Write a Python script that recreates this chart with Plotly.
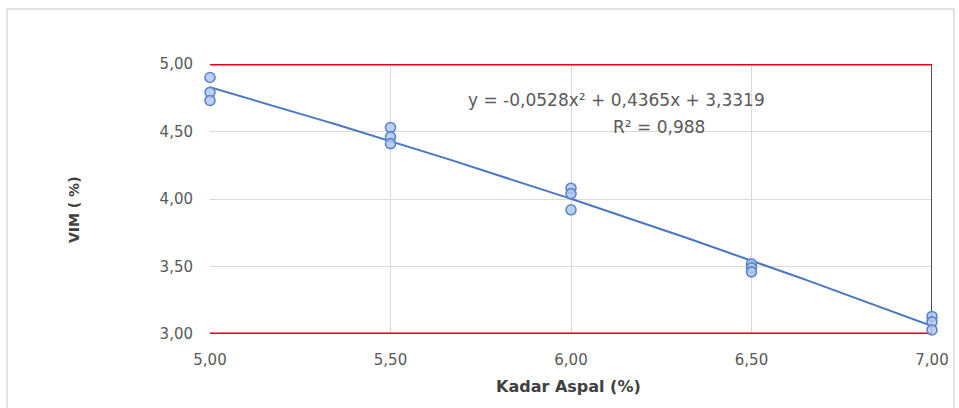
import numpy as np
import plotly.graph_objects as go

# Asphalt content (%) and measured VIM (%) for each specimen
kadar_aspal = [5.00, 5.00, 5.00, 5.50, 5.50, 5.50, 6.00, 6.00, 6.00,
               6.50, 6.50, 6.50, 7.00, 7.00, 7.00]
vim = [4.90, 4.79, 4.73, 4.53, 4.46, 4.41, 4.08, 4.04, 3.92,
       3.52, 3.49, 3.46, 3.13, 3.09, 3.03]

# Specification limits for VIM
batas_atas = 5.00
batas_bawah = 3.00
x_range = [5.00, 7.00]

x_ticks = [5.00, 5.50, 6.00, 6.50, 7.00]
y_ticks = [3.00, 3.50, 4.00, 4.50, 5.00]

persamaan = "y = -0,0528x² + 0,4365x + 3,3319"
r_kuadrat = "R² = 0,988"

FONT = "DejaVu Sans, Verdana, sans-serif"

# Polynomial (order 2) trendline through the measurements
coef = np.polyfit(kadar_aspal, vim, 2)
xt = np.linspace(x_range[0], x_range[1], 100)
yt = np.polyval(coef, xt)

fig = go.Figure()

# boundary at the upper asphalt content
fig.add_trace(go.Scatter(x=[x_range[1], x_range[1]], y=[batas_bawah, batas_atas], mode="lines",
                         line=dict(color="#404040", width=1.8), hoverinfo="skip", cliponaxis=False))
# spec limit lines
fig.add_trace(go.Scatter(x=x_range, y=[batas_atas, batas_atas], mode="lines",
                         line=dict(color="#e0001b", width=3), hoverinfo="skip", cliponaxis=False))
fig.add_trace(go.Scatter(x=x_range, y=[batas_bawah, batas_bawah], mode="lines",
                         line=dict(color="#e0001b", width=3), hoverinfo="skip", cliponaxis=False))

fig.add_trace(go.Scatter(x=xt, y=yt, mode="lines",
                         line=dict(color="#4a78c0", width=2), hoverinfo="skip", cliponaxis=False))
fig.add_trace(go.Scatter(x=kadar_aspal, y=vim, mode="markers", cliponaxis=False,
                         marker=dict(symbol="circle", size=10, color="rgba(175,198,236,0.8)",
                                     line=dict(color="#5a86cc", width=1.6))))

# trendline equation and coefficient of determination
fig.add_annotation(x=6.127, y=4.733, xref="x", yref="y", showarrow=False,
                   xanchor="center", yanchor="middle",
                   text=persamaan, font=dict(family=FONT, size=17, color="#595959"))
fig.add_annotation(x=6.244, y=4.533, xref="x", yref="y", showarrow=False,
                   xanchor="center", yanchor="middle",
                   text=r_kuadrat, font=dict(family=FONT, size=17, color="#595959"))

L, R, T, B = 210, 27, 64, 74
W, H = 959, 408
pw, ph = W - L - R, H - T - B

# axis titles
fig.add_annotation(x=(568 - L) / pw, y=(H - B - 386) / ph, xref="paper", yref="paper",
                   xanchor="center", yanchor="middle",
                   showarrow=False, text="<b>Kadar Aspal (%)</b>",
                   font=dict(family=FONT, size=16, color="#404040"))
fig.add_annotation(x=(74 - L) / pw, y=(H - B - 210) / ph, xref="paper", yref="paper",
                   xanchor="center", yanchor="middle",
                   showarrow=False, text="<b>VIM ( %)</b>", textangle=-90,
                   font=dict(family=FONT, size=14, color="#404040"))

# outer chart frame
fig.add_shape(type="rect", xref="paper", yref="paper",
              x0=(7 - L) / pw, x1=(954 - L) / pw,
              y0=(H - B - 412) / ph, y1=(H - B - 9) / ph,
              line=dict(color="#d9d9d9", width=1.5), fillcolor="rgba(0,0,0,0)", layer="below")

fig.update_layout(
    width=W, height=H,
    margin=dict(l=L, r=R, t=T, b=B, autoexpand=False),
    paper_bgcolor="white", plot_bgcolor="white",
    showlegend=False,
    separators=",.",
    font=dict(family=FONT, color="#595959", size=15),
    xaxis=dict(range=x_range, tickvals=x_ticks, tickformat=".2f", automargin=False,
               showgrid=True, gridcolor="#d9d9d9", gridwidth=1,
               zeroline=False, showline=False, ticks="", ticklabelstandoff=15,
               tickfont=dict(family=FONT, size=15, color="#595959")),
    yaxis=dict(range=[3.00, 5.00], tickvals=y_ticks, tickformat=".2f", automargin=False,
               showgrid=True, gridcolor="#d9d9d9", gridwidth=1,
               zeroline=False, showline=False, ticks="", ticklabelstandoff=16,
               tickfont=dict(family=FONT, size=15, color="#595959")),
)

fig.write_html("out.html")
